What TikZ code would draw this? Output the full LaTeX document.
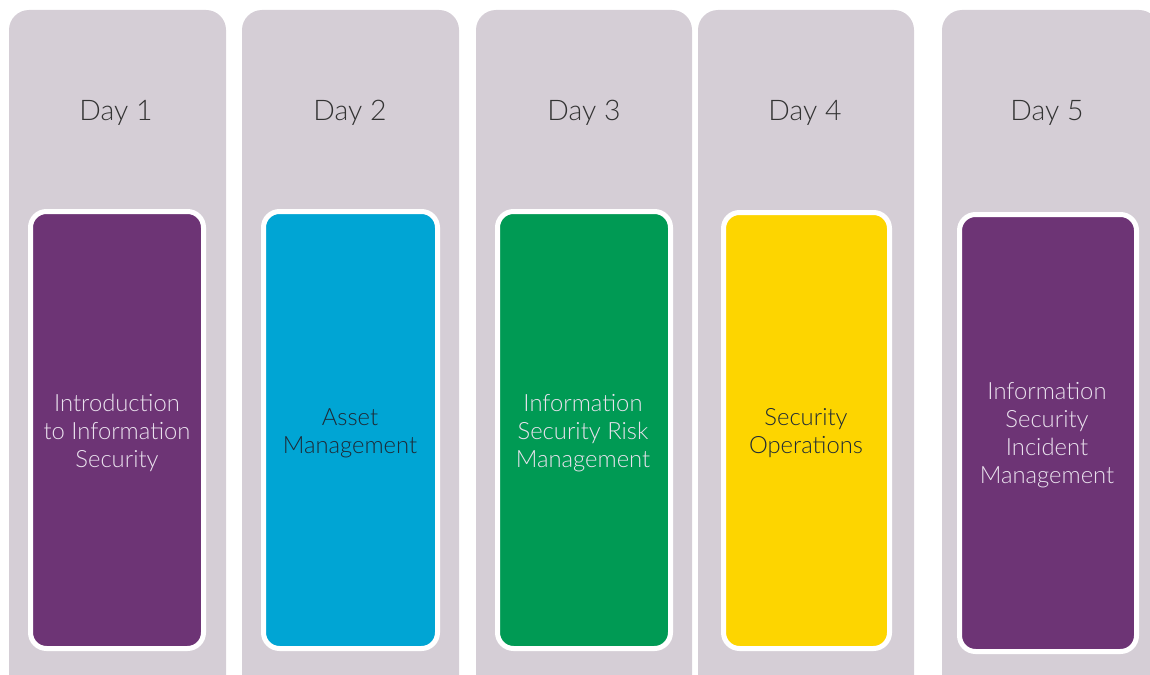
\documentclass[tikz,border=0pt]{standalone}
\usepackage{fontspec}
\IfFontExistsTF{Lato Light}{\setmainfont{Lato Light}}{\setmainfont{Lato}}
\definecolor{colgray}{HTML}{D5CED6}
\definecolor{cpurple}{HTML}{6D3475}
\definecolor{cblue}{HTML}{00A5D4}
\definecolor{cgreen}{HTML}{009A54}
\definecolor{cyellow}{HTML}{FDD500}
\definecolor{daytext}{HTML}{333333}
\definecolor{lighttext}{HTML}{EAE2EE}
\definecolor{darktext}{HTML}{1E2A36}
\tikzset{
  column/.style={fill=colgray, draw=none, rounded corners=10pt},
  topicbox/.style={draw=white, line width=2.5pt, rounded corners=8pt},
  daylabel/.style={text=daytext, font=\fontsize{14.2}{17}\selectfont, inner sep=0pt},
  topiclabel/.style={align=center, font=\fontsize{11.9}{13.9}\selectfont, inner sep=0pt}
}
\begin{document}
\begin{tikzpicture}[x=0.5pt, y=-0.5pt]
\useasboundingbox (0,0) rectangle (1150,674);
\clip (0,0) rectangle (1150,674);
% columns
\fill[column] (9,10) rectangle (226,700);
\fill[column] (242,10) rectangle (459,700);
\fill[column] (476,10) rectangle (692,700);
\fill[column] (698,10) rectangle (914,700);
\fill[column] (942,10) rectangle (1159,700);
% day labels
\node[daylabel] (d1) at (116,113) {Day 1};
\node[daylabel] (d2) at (350,113) {Day 2};
\node[daylabel] (d3) at (584,113) {Day 3};
\node[daylabel] (d4) at (805,113) {Day 4};
\node[daylabel] (d5) at (1047,113) {Day 5};
% topic boxes
\filldraw[topicbox, fill=cpurple] (30.5,211.5) rectangle (203.5,648.5);
\filldraw[topicbox, fill=cblue] (263.5,211.5) rectangle (437.5,648.5);
\filldraw[topicbox, fill=cgreen] (497.5,211.5) rectangle (670.5,648.5);
\filldraw[topicbox, fill=cyellow] (723.5,212.5) rectangle (889.5,648.5);
\filldraw[topicbox, fill=cpurple] (959.5,214.5) rectangle (1136.5,651.5);
% topic labels
\node[topiclabel, text=lighttext] (t1) at (117,433) {Introduction\\to Information\\Security};
\node[topiclabel, text=darktext] (t2) at (350,433) {Asset\\Management};
\node[topiclabel, text=lighttext] (t3) at (583,433) {Information\\Security Risk\\Management};
\node[topiclabel, text=darktext] (t4) at (806,433) {Security\\Operations};
\node[topiclabel, text=lighttext] (t5) at (1047,435) {Information\\Security\\Incident\\Management};
\end{tikzpicture}
\end{document}
